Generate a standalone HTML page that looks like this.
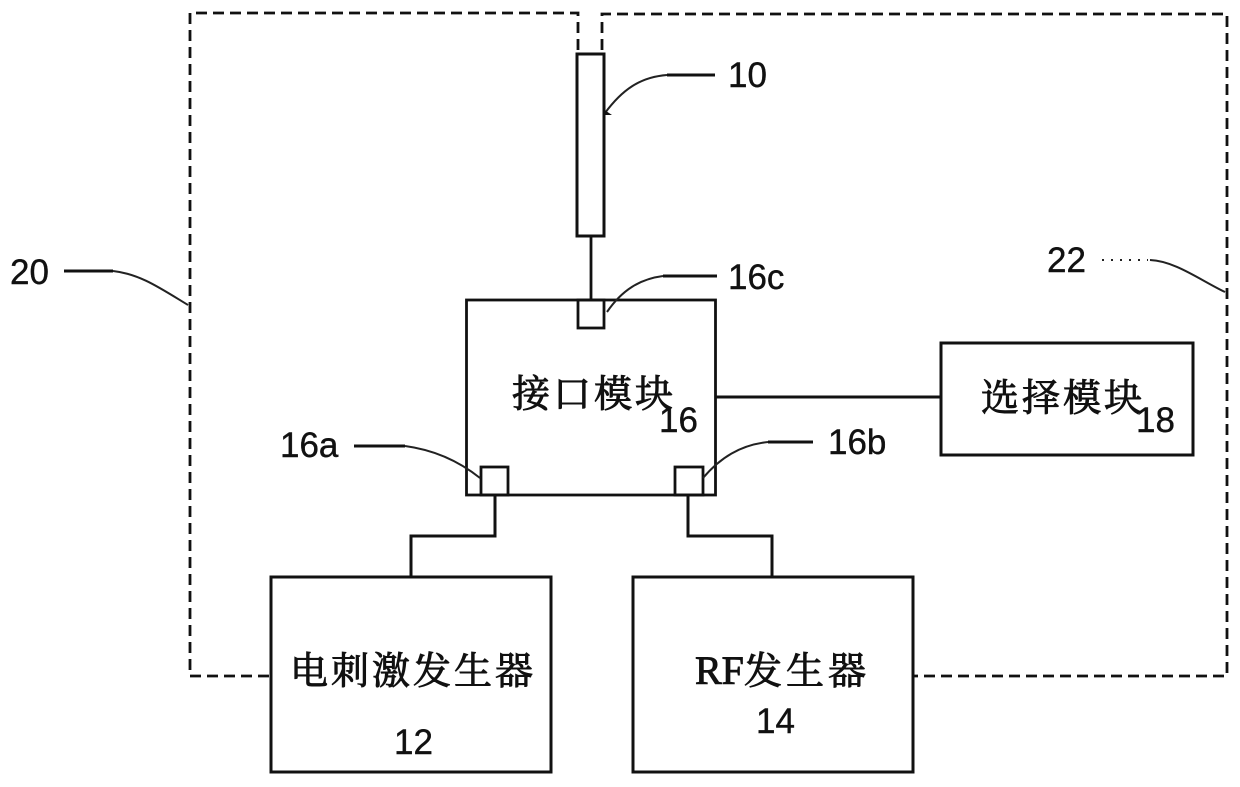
<!DOCTYPE html>
<html><head><meta charset="utf-8">
<style>html,body{margin:0;padding:0;background:#fff}svg{display:block}</style></head>
<body>
<svg width="1240" height="787" viewBox="0 0 1240 787" xmlns="http://www.w3.org/2000/svg">
<g fill="none" stroke="#111" stroke-width="2.800">
<path d="M578 50V13H190V676H270" stroke-dasharray="11 6"/>
<path d="M602 50V14H1227V676H913" stroke-dasharray="11 6"/>
<rect x="577" y="54" width="27" height="182" stroke-width="3"/>
<path d="M591 236V300"/>
<rect x="466.500" y="300" width="249" height="195"/>
<rect x="578" y="300" width="26" height="28"/>
<rect x="481" y="467" width="27" height="28"/>
<rect x="675" y="467" width="28" height="28"/>
<path d="M715 397H941" stroke-width="3"/>
<rect x="941" y="343" width="252" height="112" stroke-width="3"/>
<path d="M495 495V536H411V577" stroke-width="3"/>
<path d="M688 495V536H772V577" stroke-width="3"/>
<rect x="271" y="577" width="280" height="195" stroke-width="3"/>
<rect x="633" y="577" width="280" height="195" stroke-width="3"/>
</g>
<g fill="none" stroke="#111" stroke-width="3">
<path d="M667 75H715"/>
<path d="M663 276H717"/>
<path d="M354 446H405"/>
<path d="M768 442H813"/>
<path d="M64 271H113"/>
</g>
<g fill="none" stroke="#222" stroke-width="2">
<path d="M667 75C640 77 622 90 605 113"/>
<path d="M663 276C640 279 622 290 607 312"/>
<path d="M405 446C435 450 460 462 480 478"/>
<path d="M768 442C740 445 720 458 703 478"/>
<path d="M113 271C140 274 160 288 188 305"/>
<path d="M1150 260C1175 261 1200 280 1225 292"/>
<path d="M1102 260H1148" stroke-dasharray="2 7"/>
</g>
<path d="M603 109L612 115L604 115Z" fill="#111"/>
<g font-family="'Liberation Sans',sans-serif" font-size="35" fill="#111" stroke="#111" stroke-width="0.4">
<text x="728" y="87">10</text>
<text x="728" y="289">16c</text>
<text x="659" y="432">16</text>
<text x="280" y="457">16a</text>
<text x="828" y="454">16b</text>
<text x="1136" y="432">18</text>
<text x="10" y="284">20</text>
<text x="1047" y="272">22</text>
<text x="394" y="754">12</text>
<text x="756" y="733">14</text>
</g>
<g font-family="'Liberation Serif','Noto Serif CJK SC',serif" font-size="38" fill="#111" stroke="#111" stroke-width="0.9" letter-spacing="3">
<text x="512" y="407">接口模块</text>
<text x="981" y="411" letter-spacing="3">选择模块</text>
<text x="290" y="684">电刺激发生器</text>
<text x="695" y="684"><tspan font-size="40" letter-spacing="0">RF</tspan><tspan letter-spacing="4">发生器</tspan></text>
</g>
</svg>
</body></html>
